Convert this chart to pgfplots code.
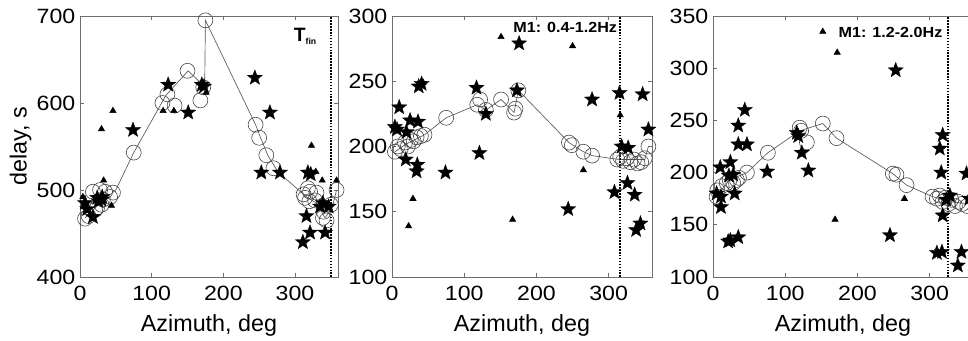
\documentclass[border=0pt]{standalone}
\usepackage{fontspec}
\setmainfont{Liberation Sans}
\newfontfamily\tickfont{Liberation Sans}[FakeStretch=1.12]
\newfontfamily\annfont{Liberation Sans}[FakeStretch=1.1]
\usepackage{pgfplots}
\pgfplotsset{compat=1.18}
\definecolor{boxgray}{RGB}{110,110,110}
\definecolor{circgray}{RGB}{70,70,70}
\definecolor{linegray}{RGB}{90,90,90}

\pgfdeclareplotmark{fstar}{%
 \pgfpathmoveto{\pgfqpointpolar{90}{\pgfplotmarksize}}%
 \pgfpathlineto{\pgfqpointpolar{126}{0.42\pgfplotmarksize}}%
 \pgfpathlineto{\pgfqpointpolar{162}{\pgfplotmarksize}}%
 \pgfpathlineto{\pgfqpointpolar{198}{0.42\pgfplotmarksize}}%
 \pgfpathlineto{\pgfqpointpolar{234}{\pgfplotmarksize}}%
 \pgfpathlineto{\pgfqpointpolar{270}{0.42\pgfplotmarksize}}%
 \pgfpathlineto{\pgfqpointpolar{306}{\pgfplotmarksize}}%
 \pgfpathlineto{\pgfqpointpolar{342}{0.42\pgfplotmarksize}}%
 \pgfpathlineto{\pgfqpointpolar{18}{\pgfplotmarksize}}%
 \pgfpathlineto{\pgfqpointpolar{54}{0.42\pgfplotmarksize}}%
 \pgfpathclose
 \pgfusepathqfillstroke}

\pgfplotsset{
 panel/.style={scale only axis, width=195pt, height=195.75pt, anchor=south west,
  xmin=0, xmax=360, xtick={0,100,200,300},
  axis line style={boxgray, line width=0.6pt},
  tick style={boxgray, line width=0.6pt, major tick length=3pt},
  tick align=inside, clip=false,
  /pgf/number format/assume math mode=true,
  ticklabel style={font=\tickfont\fontsize{15.5}{15.5}\selectfont, text=black},
  xticklabel style={yshift=-3pt},
  xlabel={Azimuth, deg},
  label style={font=\fontsize{17.5}{17.5}\selectfont},
  xlabel style={yshift=-4pt},
 },
 stars/.style={only marks, mark=fstar, mark size=6pt, black, mark options={line width=0.2pt}},
 tris/.style={only marks, mark=triangle*, mark size=2.7pt, black},
 circs/.style={only marks, mark=o, mark size=5.6pt, circgray, mark options={line width=0.45pt}},
 conn/.style={no marks, linegray, line width=0.5pt},
 vdot/.style={no marks, black, line width=1.6pt, dash pattern=on 1.2pt off 1pt},
}

\begin{document}
\begin{tikzpicture}
% ---------------- Panel 1 ----------------
\begin{axis}[panel, at={(60pt,48pt)}, width=193.5pt,
  ymin=400, ymax=700, ytick={400,500,600,700},
  ylabel={delay, s}, ylabel style={yshift=-3pt}]
\addplot[conn] coordinates {(7,468)(22,480)(35,490)(50,500)(75,543)(120,609)(151,637)(172,620)(174,620)(175,695)(245,575)(252,560)(262,540)(276,521)(316,492)(330,485)(342,468)(352,480)(358,500)};
\addplot[circs] coordinates {(7,467)(12,470)(21,477)(18,498)(28,500)(35,498)(46,497)(42,492)(32,489)(30,483)(24,480)(75,543)(115,600)(122,610)(132,597)(150,637)(168,603)(172,618)(175,695)(245,575)(250,560)(260,540)(270,525)(312,495)(318,502)(321,498)(314,491)(320,487)(328,488)(330,497)(339,468)(344,465)(340,475)(358,500)(350,483)};
\addplot[stars] coordinates {(7,485)(10,478)(18,469)(24,491)(26,487)(30,489)(31,492)(74,569)(123,621)(151,589)(170,621)(173,619)(244,629)(265,589)(253,520)(279,520)(318,520)(322,518)(316,470)(321,451)(311,440)(335,481)(339,485)(347,481)(342,451)};
\addplot[tris] coordinates {(4,492)(6,485)(10,476)(30,570)(46,591)(33,511)(44,482)(116,591)(131,591)(176,612)(323,551)(329,521)(338,511)(358,511)};
\addplot[vdot] coordinates {(350,400)(350,700)};
\node[anchor=east, font=\bfseries\fontsize{14.5}{14.5}\selectfont, inner sep=0pt] at (axis cs:331,677) {T\textsubscript{\fontsize{6.5}{6.5}\selectfont fin}};
\end{axis}
% ---------------- Panel 2 ----------------
\begin{axis}[panel, at={(294pt,48pt)},
  ymin=100, ymax=300, ytick={100,150,200,250,300}]
\addplot[conn] coordinates {(4,196)(20,202)(45,209)(75,222)(118,232)(130,228)(151,236)(169,226)(175,243)(245,203)(265,196)(277,193)(315,190)(335,190)(350,190)(355,200)};
\addplot[circs] coordinates {(4,196)(8,200)(12,198)(18,203)(22,200)(26,205)(30,204)(34,207)(40,208)(45,209)(75,222)(118,232)(122,236)(130,228)(151,236)(169,226)(171,229)(175,243)(245,203)(249,201)(265,196)(277,193)(312,190)(316,192)(320,189)(325,191)(330,188)(335,190)(340,187)(345,188)(350,191)(355,200)};
\addplot[stars] coordinates {(4,215)(7,213)(10,230)(19,190)(20,211)(25,220)(36,219)(35,186)(34,181)(37,246)(41,248)(74,180)(117,245)(121,195)(130,225)(173,243)(176,279)(244,152)(277,236)(315,241)(318,200)(327,199)(308,165)(326,172)(336,163)(344,141)(338,136)(347,240)(355,213)};
\addplot[tris] coordinates {(151,284)(250,277)(43,249)(29,160)(23,139)(167,144)(265,182)(316,224)};
\addplot[vdot] coordinates {(316,100)(316,300)};
\node[anchor=east, font=\annfont\bfseries\fontsize{11}{11}\selectfont, inner sep=0pt] at (axis cs:312,291) {M1: 0.4-1.2Hz};
\end{axis}
% ---------------- Panel 3 ----------------
\begin{axis}[panel, at={(534.75pt,48pt)},
  ymin=100, ymax=350, ytick={100,150,200,250,300,350}]
\addplot[conn] coordinates {(5,177)(23,193)(47,200)(76,219)(120,240)(152,247)(171,233)(249,199)(268,188)(304,177)(330,172)(355,170)};
\addplot[circs] coordinates {(5,177)(6,183)(12,187)(19,190)(23,193)(28,190)(33,193)(36,195)(47,200)(76,219)(120,243)(122,240)(130,229)(152,247)(171,233)(249,199)(254,198)(268,188)(304,177)(310,175)(314,178)(318,172)(322,176)(326,170)(330,174)(335,168)(340,172)(345,170)(352,168)};
\addplot[stars] coordinates {(5,180)(10,205)(11,177)(11,167)(21,134)(24,135)(22,197)(24,210)(28,198)(30,180)(35,138)(35,245)(35,227)(44,260)(47,227)(75,201)(116,238)(118,235)(123,219)(132,202)(245,140)(253,298)(314,223)(318,236)(316,200)(318,159)(323,174)(328,178)(310,123)(317,124)(344,124)(339,111)(351,199)(355,175)};
\addplot[tris] coordinates {(152,335)(172,315)(169,155)(265,175)};
\addplot[vdot] coordinates {(325,100)(325,350)};
\node[anchor=east, font=\annfont\bfseries\fontsize{11}{11}\selectfont, inner sep=0pt] at (axis cs:318,334) {M1: 1.2-2.0Hz};
\end{axis}
\pgfresetboundingbox
\path[use as bounding box] (0,0) rectangle (726pt,255.75pt);
\end{tikzpicture}
\end{document}
